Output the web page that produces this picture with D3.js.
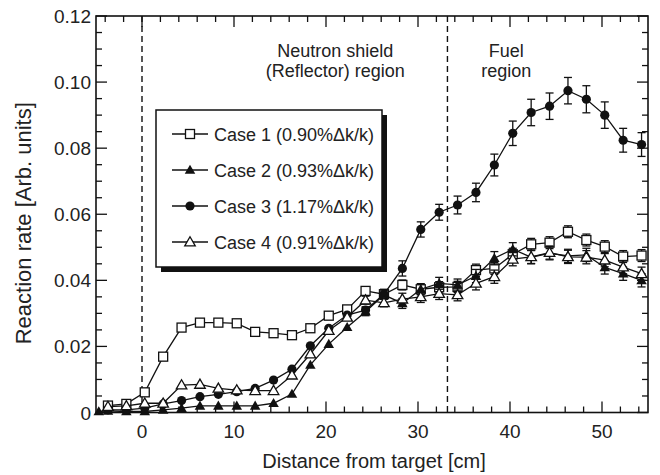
<!DOCTYPE html>
<html><head><meta charset="utf-8">
<script src="https://cdn.jsdelivr.net/npm/d3@7"></script>
<style>
html,body{margin:0;padding:0;background:#fff;}
text{font-family:"Liberation Sans",Arial,Helvetica,sans-serif;fill:#222;}
</style></head>
<body><svg id="chart" width="660" height="475"></svg>
<script>
// ---- data ----
const xPos = [-3.7,-1.7,0.3,2.3,4.3,6.3,8.3,10.3,12.3,14.3,16.3,18.3,20.3,22.3,24.3,26.3,28.3,30.3,32.3,34.3,36.3,38.3,40.3,42.3,44.3,46.3,48.3,50.3,52.3,54.3];
const case1 = [0.0021,0.0026,0.0061,0.0169,0.0257,0.0272,0.0272,0.0270,0.0244,0.0240,0.0234,0.0255,0.0293,0.0312,0.0368,0.0358,0.0386,0.0373,0.0379,0.0380,0.0431,0.0436,0.0479,0.0509,0.0514,0.0547,0.0522,0.0502,0.0472,0.0475];
const case2 = [0.0005,0.0003,0.0003,0.0008,0.0013,0.0020,0.0020,0.0020,0.0020,0.0028,0.0056,0.0144,0.0207,0.0258,0.0305,0.0356,0.0330,0.0373,0.0391,0.0386,0.0413,0.0467,0.0494,0.0470,0.0482,0.0474,0.0477,0.0439,0.0420,0.0400];
const case3 = [0.0008,0.0008,0.0013,0.0026,0.0036,0.0048,0.0055,0.0063,0.0073,0.0098,0.0131,0.0202,0.0255,0.0295,0.0310,0.0358,0.0436,0.0554,0.0606,0.0628,0.0666,0.0749,0.0845,0.0908,0.0927,0.0974,0.0948,0.0900,0.0824,0.0811];
const case4 = [0.0018,0.0020,0.0028,0.0028,0.0083,0.0085,0.0073,0.0068,0.0066,0.0066,0.0113,0.0177,0.0248,0.0288,0.0340,0.0332,0.0343,0.0350,0.0360,0.0356,0.0391,0.0411,0.0464,0.0471,0.0484,0.0471,0.0470,0.0461,0.0440,0.0420];
const err1 = [0,0,0,0,0,0,0,0,0,0,0,0,0,0,0.0010,0.0012,0.0015,0.0015,0.0017,0.0017,0.0018,0.0018,0.0018,0.0018,0.0018,0.0018,0.0018,0.0018,0.0018,0.0018];
const err2 = [0,0,0,0,0,0,0,0,0,0,0,0,0,0,0.0012,0.0012,0.0015,0.0017,0.0018,0.0018,0.0020,0.0020,0.0020,0.0020,0.0020,0.0020,0.0020,0.0020,0.0020,0.0020];
const err3 = [0,0,0,0,0,0,0,0,0,0,0,0,0,0,0.0010,0.0015,0.0023,0.0023,0.0024,0.0027,0.0028,0.0033,0.0037,0.0040,0.0040,0.0040,0.0041,0.0040,0.0036,0.0036];
const err4 = [0,0,0,0,0,0,0,0,0,0,0,0,0,0,0.0012,0.0012,0.0018,0.0017,0.0018,0.0018,0.0020,0.0020,0.0020,0.0020,0.0020,0.0020,0.0020,0.0020,0.0020,0.0020];
const case2Extra = {x: -4.7, y: 0.0003};
const seriesNames = ["Case 1 (0.90%\u0394k/k)","Case 2 (0.93%\u0394k/k)","Case 3 (1.17%\u0394k/k)","Case 4 (0.91%\u0394k/k)"];
const seriesMarkers = ["openSquare","filledTriangle","filledCircle","openTriangle"];
const xTicks = [0,10,20,30,40,50];
const yTicks = [0,0.02,0.04,0.06,0.08,0.10,0.12];
const yTickLabels = ["0","0.02","0.04","0.06","0.08","0.10","0.12"];
const boundaries = [0,33.2];
const regionLabels = [{x:21.0,lines:["Neutron shield","(Reflector) region"]},{x:39.6,lines:["Fuel","region"]}];
const xTitle = "Distance from target [cm]";
const yTitle = "Reaction rate [Arb. units]";

// ---- layout ----
const L=96, R=648, T=16, B=412.5;
const x = d3.scaleLinear().domain([-5,55]).range([L,R]);
const y = d3.scaleLinear().domain([0,0.12]).range([B,T]);
const svg = d3.select("#chart");
const ink = "#111";

// frame
svg.append("rect").attr("x",L).attr("y",T).attr("width",R-L).attr("height",B-T)
  .attr("fill","none").attr("stroke",ink).attr("stroke-width",1.6);

// ticks (inward, all four sides)
const xMinor = d3.range(-4,55,2), yMinor = d3.range(0,0.1201,0.005);
function isMajorX(v){return Math.abs(v%10)<1e-9;}
function isMajorY(v){return Math.abs(Math.round(v/0.02)*0.02-v)<1e-9;}
const tg = svg.append("g").attr("stroke",ink).attr("stroke-width",1.3);
xMinor.forEach(v=>{
  const len = isMajorX(v)?11:6, px=x(v);
  tg.append("line").attr("x1",px).attr("x2",px).attr("y1",B).attr("y2",B-len);
  tg.append("line").attr("x1",px).attr("x2",px).attr("y1",T).attr("y2",T+len);
});
yMinor.forEach(v=>{
  const len = isMajorY(v)?11:6, py=y(v);
  tg.append("line").attr("x1",L).attr("x2",L+len).attr("y1",py).attr("y2",py);
  tg.append("line").attr("x1",R).attr("x2",R-len).attr("y1",py).attr("y2",py);
});

// tick labels
svg.append("g").selectAll("text").data(xTicks).join("text")
  .attr("x",d=>x(d)).attr("y",B+25).attr("text-anchor","middle")
  .attr("font-size",19).text(d=>d);
svg.append("g").selectAll("text").data(yTicks).join("text")
  .attr("x",L-5).attr("y",d=>y(d)+7).attr("text-anchor","end")
  .attr("font-size",19).text((d,i)=>yTickLabels[i]);

// titles
svg.append("text").attr("x",(L+R)/2+2).attr("y",468).attr("text-anchor","middle")
  .attr("font-size",20).text(xTitle);
svg.append("text").attr("transform",`translate(31,${(T+B)/2+9}) rotate(-90)`)
  .attr("text-anchor","middle").attr("font-size",22).text(yTitle);

// boundaries
svg.append("g").selectAll("line").data(boundaries).join("line")
  .attr("x1",d=>x(d)).attr("x2",d=>x(d)).attr("y1",T).attr("y2",B)
  .attr("stroke",ink).attr("stroke-width",1.4).attr("stroke-dasharray","6,4");

// region labels
regionLabels.forEach(r=>{
  r.lines.forEach((ln,i)=>{
    svg.append("text").attr("x",x(r.x)).attr("y",57+i*20).attr("text-anchor","middle")
      .attr("font-size",18).text(ln);
  });
});

// markers
const tri = d3.symbol().type(d3.symbolTriangle).size(48);
function drawMarker(g,kind,px,py){
  if(kind==="openSquare"){
    g.append("rect").attr("x",px-4.5).attr("y",py-4.5).attr("width",9).attr("height",9)
      .attr("fill","#fff").attr("stroke",ink).attr("stroke-width",1.3);
  } else if(kind==="filledCircle"){
    g.append("circle").attr("cx",px).attr("cy",py).attr("r",4.6).attr("fill",ink);
  } else if(kind==="filledTriangle"){
    g.append("path").attr("d",tri()).attr("transform",`translate(${px},${py+0.8})`).attr("fill",ink);
  } else {
    g.append("path").attr("d",tri()).attr("transform",`translate(${px},${py+0.8})`)
      .attr("fill","#fff").attr("stroke",ink).attr("stroke-width",1.3);
  }
}

const allSeries = [
  {vals:case1, err:err1, marker:seriesMarkers[0]},
  {vals:case2, err:err2, marker:seriesMarkers[1], extra:case2Extra},
  {vals:case3, err:err3, marker:seriesMarkers[2]},
  {vals:case4, err:err4, marker:seriesMarkers[3]}
];
const line = d3.line().x(d=>x(d[0])).y(d=>y(d[1]));
const plotG = svg.append("g");
allSeries.forEach(s=>{
  let pts = xPos.map((xv,i)=>[xv,s.vals[i],s.err[i]]);
  if(s.extra) pts = [[s.extra.x,s.extra.y,0]].concat(pts);
  const g = plotG.append("g");
  g.append("path").attr("d",line(pts)).attr("fill","none").attr("stroke",ink).attr("stroke-width",1.3);
  pts.forEach(p=>{
    if(p[2]>0){
      const px=x(p[0]), y1=y(p[1]-p[2]), y2=y(p[1]+p[2]);
      g.append("line").attr("x1",px).attr("x2",px).attr("y1",y1).attr("y2",y2).attr("stroke",ink).attr("stroke-width",1.3);
      [y1,y2].forEach(yy=>g.append("line").attr("x1",px-4).attr("x2",px+4).attr("y1",yy).attr("y2",yy).attr("stroke",ink).attr("stroke-width",1.3));
    }
  });
  pts.forEach(p=>drawMarker(g,s.marker,x(p[0]),y(p[1])));
});

// legend
const LX=156, LY=110, LW=226, LH=157;
svg.append("rect").attr("x",LX+5).attr("y",LY+5).attr("width",LW).attr("height",LH).attr("fill",ink);
svg.append("rect").attr("x",LX).attr("y",LY).attr("width",LW).attr("height",LH)
  .attr("fill","#fff").attr("stroke",ink).attr("stroke-width",1.5);
seriesNames.forEach((nm,i)=>{
  const ry = 134 + i*36;
  svg.append("line").attr("x1",172).attr("x2",208).attr("y1",ry).attr("y2",ry).attr("stroke",ink).attr("stroke-width",1.3);
  drawMarker(svg,seriesMarkers[i],190,ry);
  svg.append("text").attr("x",214).attr("y",ry+6.5).attr("font-size",18).text(nm);
});
</script></body></html>
